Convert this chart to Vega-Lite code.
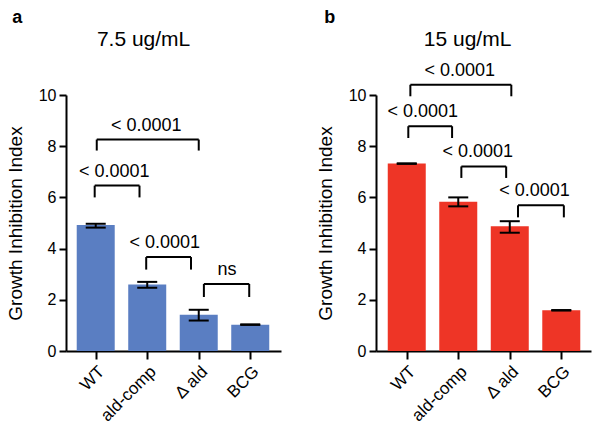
{
  "$schema": "https://vega.github.io/schema/vega-lite/v6.json",
  "background": "white",
  "padding": {"left": 6, "top": 8, "right": 5, "bottom": 5},
  "datasets": {
    "barsA": [
      {"idx": 1, "group": "WT", "mean": 4.92, "lo": 4.82, "hi": 4.97},
      {"idx": 2, "group": "ald-comp", "mean": 2.6, "lo": 2.47, "hi": 2.7},
      {"idx": 3, "group": "Δ ald", "mean": 1.42, "lo": 1.19, "hi": 1.61},
      {"idx": 4, "group": "BCG", "mean": 1.03, "lo": 1.02, "hi": 1.04}
    ],
    "barsB": [
      {"idx": 1, "group": "WT", "mean": 7.32, "lo": 7.31, "hi": 7.33},
      {"idx": 2, "group": "ald-comp", "mean": 5.83, "lo": 5.65, "hi": 6.0},
      {"idx": 3, "group": "Δ ald", "mean": 4.87, "lo": 4.62, "hi": 5.07},
      {"idx": 4, "group": "BCG", "mean": 1.59, "lo": 1.58, "hi": 1.6}
    ],
    "bracketsA": [
      {"x1": 1.02, "x2": 3.0, "xm": 1.98, "ytop": 8.26, "yleg": 7.83, "label": "< 0.0001"},
      {"x1": 0.98, "x2": 1.85, "xm": 1.36, "ytop": 6.46, "yleg": 6.0, "label": "< 0.0001"},
      {"x1": 1.98, "x2": 2.85, "xm": 2.34, "ytop": 3.67, "yleg": 3.18, "label": "< 0.0001"},
      {"x1": 3.1, "x2": 3.98, "xm": 3.55, "ytop": 2.62, "yleg": 2.11, "label": "ns"}
    ],
    "bracketsB": [
      {"x1": 1.07, "x2": 3.03, "xm": 2.03, "ytop": 10.4, "yleg": 9.95, "label": "< 0.0001"},
      {"x1": 1.03, "x2": 1.88, "xm": 1.31, "ytop": 8.78, "yleg": 8.32, "label": "< 0.0001"},
      {"x1": 2.06, "x2": 2.93, "xm": 2.38, "ytop": 7.21, "yleg": 6.76, "label": "< 0.0001"},
      {"x1": 3.16, "x2": 4.05, "xm": 3.48, "ytop": 5.69, "yleg": 5.22, "label": "< 0.0001"}
    ]
  },
  "spacing": 35,
  "hconcat": [
    {
      "title": {"text": "a", "anchor": "start", "frame": "bounds", "fontSize": 18, "fontWeight": "bold", "offset": 2, "dx": 6},
      "hconcat": [
        {
          "title": {"text": "7.5 ug/mL", "anchor": "middle", "frame": "bounds", "fontSize": 21, "fontWeight": "normal", "offset": 37},
          "width": 215,
          "height": 256,
          "layer": [
            {
              "data": {"name": "barsA"},
              "mark": {"type": "bar", "size": 38, "color": "#5a7ec2"},
              "encoding": {
                "x": {"field": "idx", "type": "quantitative", "scale": {"domain": [0.52, 4.5], "nice": false, "zero": false},
                  "axis": {"values": [1, 2, 3, 4], "labelExpr": "['', 'WT', 'ald-comp', 'Δ ald', 'BCG'][datum.value]", "labelAngle": -45, "labelAlign": "right", "labelBaseline": "top", "labelOverlap": false, "labelBound": false, "labelFontSize": 17, "title": null, "grid": false, "tickSize": 8, "labelPadding": 4}},
                "y": {"field": "mean", "type": "quantitative", "scale": {"domain": [0, 10], "nice": false},
                  "axis": {"values": [0, 2, 4, 6, 8, 10], "title": "Growth Inhibition Index", "grid": false, "tickSize": 7, "titlePadding": 13}}
              }
            },
            {
              "data": {"name": "barsA"},
              "mark": {"type": "rule", "color": "black", "strokeWidth": 2},
              "encoding": {
                "x": {"field": "idx", "type": "quantitative"},
                "y": {"field": "lo", "type": "quantitative"},
                "y2": {"field": "hi"}
              }
            },
            {
              "data": {"name": "barsA"},
              "mark": {"type": "tick", "orient": "horizontal", "size": 20, "thickness": 2, "color": "black", "opacity": 1},
              "encoding": {
                "x": {"field": "idx", "type": "quantitative"},
                "y": {"field": "lo", "type": "quantitative"}
              }
            },
            {
              "data": {"name": "barsA"},
              "mark": {"type": "tick", "orient": "horizontal", "size": 20, "thickness": 2, "color": "black", "opacity": 1},
              "encoding": {
                "x": {"field": "idx", "type": "quantitative"},
                "y": {"field": "hi", "type": "quantitative"}
              }
            },
            {
              "data": {"name": "bracketsA"},
              "mark": {"type": "rule", "color": "black", "strokeWidth": 2},
              "encoding": {
                "x": {"field": "x1", "type": "quantitative"},
                "x2": {"field": "x2"},
                "y": {"field": "ytop", "type": "quantitative"}
              }
            },
            {
              "data": {"name": "bracketsA"},
              "mark": {"type": "rule", "color": "black", "strokeWidth": 2},
              "encoding": {
                "x": {"field": "x1", "type": "quantitative"},
                "y": {"field": "yleg", "type": "quantitative"},
                "y2": {"field": "ytop"}
              }
            },
            {
              "data": {"name": "bracketsA"},
              "mark": {"type": "rule", "color": "black", "strokeWidth": 2},
              "encoding": {
                "x": {"field": "x2", "type": "quantitative"},
                "y": {"field": "yleg", "type": "quantitative"},
                "y2": {"field": "ytop"}
              }
            },
            {
              "data": {"name": "bracketsA"},
              "mark": {"type": "text", "fontSize": 18, "font": "Liberation Sans", "color": "black", "baseline": "alphabetic", "dy": -9},
              "encoding": {
                "x": {"field": "xm", "type": "quantitative"},
                "y": {"field": "ytop", "type": "quantitative"},
                "text": {"field": "label"}
              }
            }
          ]
        }
      ]
    },
    {
      "title": {"text": "b", "anchor": "start", "frame": "bounds", "fontSize": 18, "fontWeight": "bold", "offset": 2, "dx": 8},
      "hconcat": [
        {
          "title": {"text": "15 ug/mL", "anchor": "middle", "frame": "bounds", "fontSize": 21, "fontWeight": "normal", "offset": 12, "dx": 14},
          "width": 215,
          "height": 256,
          "layer": [
            {
              "data": {"name": "barsB"},
              "mark": {"type": "bar", "size": 38, "color": "#ee3526"},
              "encoding": {
                "x": {"field": "idx", "type": "quantitative", "scale": {"domain": [0.5, 4.48], "nice": false, "zero": false},
                  "axis": {"values": [1, 2, 3, 4], "labelExpr": "['', 'WT', 'ald-comp', 'Δ ald', 'BCG'][datum.value]", "labelAngle": -45, "labelAlign": "right", "labelBaseline": "top", "labelOverlap": false, "labelBound": false, "labelFontSize": 17, "title": null, "grid": false, "tickSize": 8, "labelPadding": 4}},
                "y": {"field": "mean", "type": "quantitative", "scale": {"domain": [0, 10], "nice": false},
                  "axis": {"values": [0, 2, 4, 6, 8, 10], "title": "Growth Inhibition Index", "grid": false, "tickSize": 7, "titlePadding": 13}}
              }
            },
            {
              "data": {"name": "barsB"},
              "mark": {"type": "rule", "color": "black", "strokeWidth": 2},
              "encoding": {
                "x": {"field": "idx", "type": "quantitative"},
                "y": {"field": "lo", "type": "quantitative"},
                "y2": {"field": "hi"}
              }
            },
            {
              "data": {"name": "barsB"},
              "mark": {"type": "tick", "orient": "horizontal", "size": 20, "thickness": 2, "color": "black", "opacity": 1},
              "encoding": {
                "x": {"field": "idx", "type": "quantitative"},
                "y": {"field": "lo", "type": "quantitative"}
              }
            },
            {
              "data": {"name": "barsB"},
              "mark": {"type": "tick", "orient": "horizontal", "size": 20, "thickness": 2, "color": "black", "opacity": 1},
              "encoding": {
                "x": {"field": "idx", "type": "quantitative"},
                "y": {"field": "hi", "type": "quantitative"}
              }
            },
            {
              "data": {"name": "bracketsB"},
              "mark": {"type": "rule", "color": "black", "strokeWidth": 2},
              "encoding": {
                "x": {"field": "x1", "type": "quantitative"},
                "x2": {"field": "x2"},
                "y": {"field": "ytop", "type": "quantitative"}
              }
            },
            {
              "data": {"name": "bracketsB"},
              "mark": {"type": "rule", "color": "black", "strokeWidth": 2},
              "encoding": {
                "x": {"field": "x1", "type": "quantitative"},
                "y": {"field": "yleg", "type": "quantitative"},
                "y2": {"field": "ytop"}
              }
            },
            {
              "data": {"name": "bracketsB"},
              "mark": {"type": "rule", "color": "black", "strokeWidth": 2},
              "encoding": {
                "x": {"field": "x2", "type": "quantitative"},
                "y": {"field": "yleg", "type": "quantitative"},
                "y2": {"field": "ytop"}
              }
            },
            {
              "data": {"name": "bracketsB"},
              "mark": {"type": "text", "fontSize": 18, "font": "Liberation Sans", "color": "black", "baseline": "alphabetic", "dy": -9},
              "encoding": {
                "x": {"field": "xm", "type": "quantitative"},
                "y": {"field": "ytop", "type": "quantitative"},
                "text": {"field": "label"}
              }
            }
          ]
        }
      ]
    }
  ],
  "config": {
    "view": {"stroke": null},
    "font": "Liberation Sans",
    "title": {"font": "Liberation Sans", "color": "black"},
    "axis": {
      "labelFont": "Liberation Sans",
      "titleFont": "Liberation Sans",
      "labelFontSize": 16,
      "titleFontSize": 19,
      "titleFontWeight": "normal",
      "labelColor": "black",
      "titleColor": "black",
      "domainColor": "black",
      "domainWidth": 2,
      "tickColor": "black",
      "tickWidth": 2,
      "labelPadding": 3
    }
  }
}
